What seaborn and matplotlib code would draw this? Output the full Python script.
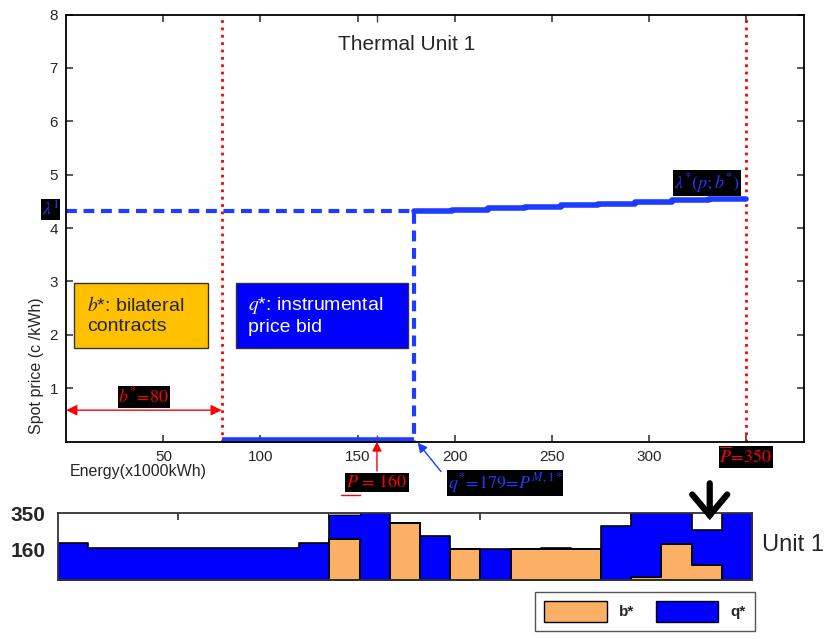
import matplotlib
matplotlib.use("Agg")
import matplotlib.pyplot as plt
import seaborn as sns
from matplotlib.patches import Patch, Rectangle

# main panel: price bid curve of thermal unit 1
bid_energy = [179, 198.6, 217, 236, 255, 274, 293, 312, 331, 350]
bid_price = [4.32, 4.34, 4.37, 4.40, 4.43, 4.46, 4.49, 4.52, 4.545, 4.545]
lambda_1 = 4.32
b_star = 80
p_min = 160
q_star = 179
p_max = 350

x_ticks = [50, 100, 150, 200, 250, 300, 350]
x_tick_labels = ['50', '100', '150', '200', '250', '300', '']
y_ticks = [1, 2, 3, 4, 5, 6, 7, 8]

# bottom panel: hourly schedule of unit 1 (stairs, 24 points -> 23 steps)
hours = list(range(1, 25))
b_hourly = [0, 0, 0, 0, 0, 0, 0, 0, 0, 215, 0, 297, 0, 162, 0, 162, 162, 162, 0, 17, 187, 79, 0]
q_hourly = [195, 166, 166, 166, 166, 166, 166, 166, 195, 125, 350, 0, 230, 0, 162, 0, 8, 0, 284, 333, 163, 183, 350]
r_hourly = [0, 0, 0, 0, 0, 0, 0, 0, 0, 10, 0, 0, 0, 0, 0, 0, 0, 0, 0, 0, 0, 0, 0]
unit_ticks = [160, 350]

BLUE = '#1E3CFF'
RED = '#FF0000'
ORANGE = '#FBB066'

sns.set_theme(style='ticks')
plt.rcParams['font.family'] = ['Liberation Sans', 'DejaVu Sans']
plt.rcParams['mathtext.fontset'] = 'stix'

fig = plt.figure(figsize=(8.28, 6.39), dpi=100)
ax = fig.add_axes([0.0801, 0.3088, 0.891, 0.6685])
ax2 = fig.add_axes([0.0697, 0.0923, 0.8385, 0.1044])

# ---- main panel ----
ax.axvline(b_star, color=RED, ls=':', lw=2, zorder=1)
ax.axvline(p_max, color=RED, ls=':', lw=2, zorder=1)
ax.plot([0, q_star, q_star], [lambda_1, lambda_1, 0], ls='--', dashes=(2.6, 1.6),
        color=BLUE, lw=3)
ax.plot([b_star, q_star], [0.03, 0.03], color=BLUE, lw=4, clip_on=False,
        solid_capstyle='butt')
sns.lineplot(x=bid_energy, y=bid_price, drawstyle='steps-post', color=BLUE,
             lw=4, ax=ax)

ax.set_xlim(0, 380)
ax.set_ylim(0, 8)
ax.set_xticks(x_ticks)
ax.set_xticklabels(x_tick_labels)
ax.set_xticks([p_min], minor=True)
ax.set_yticks(y_ticks)
ax.tick_params(which='both', direction='in', top=True, right=True, length=5,
               labelsize=11, color='#444', pad=6)
for s in ax.spines.values():
    s.set_linewidth(1.3)
    s.set_color('black')

ax.text(175.4, 7.43, 'Thermal Unit 1', fontsize=15, ha='center', va='center')
ax.text(-0.04, 0.177, 'Spot price (c /kWh)', transform=ax.transAxes, rotation=90,
        ha='center', va='center', fontsize=11.5)
ax.text(0.005, -0.069, 'Energy(x1000kWh)', transform=ax.transAxes,
        ha='left', va='center', fontsize=11.5)

# explanation boxes
ax.add_patch(Rectangle((4, 1.75), 69, 1.22, facecolor='#FFC000', edgecolor='#333', lw=1))
ax.add_patch(Rectangle((87.5, 1.75), 88.5, 1.22, facecolor='#0000FF', edgecolor='#333', lw=1))
ax.text(10.7, 2.36, '$b$*: bilateral\ncontracts', fontsize=14, ha='left', va='center',
        linespacing=1.25)
ax.text(93.7, 2.36, '$q$*: instrumental\nprice bid', fontsize=14, ha='left', va='center',
        color='white', linespacing=1.25)

blk = dict(facecolor='black', edgecolor='none', pad=0.6)
ax.annotate('', xy=(0, 0.59), xytext=(b_star, 0.59),
            arrowprops=dict(arrowstyle='<|-|>', color=RED, lw=1, mutation_scale=16,
                            shrinkA=0, shrinkB=0))
ax.text(b_star / 2, 0.84, r'$b^{*}\!=\!80$', color=RED, fontsize=13,
        ha='center', va='center', bbox=blk)
ax.text(-8, lambda_1 + 0.02, r'$\lambda^{1}$', color=BLUE, fontsize=13,
        ha='center', va='center', bbox=blk, clip_on=False)
ax.text(330, 4.84, r'$\lambda^{*}(p;b^{*})$', color=BLUE, fontsize=13,
        ha='center', va='center', bbox=blk)
ax.text(p_max, -0.29, r'$\overline{P}\!=\!350$', color=RED, fontsize=13,
        ha='center', va='center', bbox=blk, clip_on=False)
ax.annotate('', xy=(p_min, 0), xytext=(p_min, -0.55), annotation_clip=False,
            arrowprops=dict(arrowstyle='-|>', color=RED, lw=1, mutation_scale=14,
                            shrinkA=0, shrinkB=0))
ax.text(p_min, -0.76, r'$P\,=\,160$', color=RED, fontsize=13,
        ha='center', va='center', bbox=blk, clip_on=False)
# underline of the P (lower limit)
ax.plot([p_min - 18.5, p_min - 8.5], [-0.99, -0.99], color=RED, lw=1, clip_on=False)
ax.annotate('', xy=(q_star + 2, -0.02), xytext=(193, -0.56), annotation_clip=False,
            arrowprops=dict(arrowstyle='-|>', color=BLUE, lw=1, mutation_scale=14,
                            shrinkA=0, shrinkB=0))
ax.text(226, -0.77, r'$q^{*}\!=\!179\!=\!P^{M,1*}$', color=BLUE, fontsize=13,
        ha='center', va='center', bbox=blk, clip_on=False)

# ---- bottom panel ----
b_s = b_hourly + [b_hourly[-1]]
top_q = [b + q for b, q in zip(b_hourly, q_hourly)]
top_r = [t + r for t, r in zip(top_q, r_hourly)]
top_q_s = top_q + [top_q[-1]]
top_r_s = top_r + [top_r[-1]]
ax2.fill_between(hours, 0, b_s, step='post', facecolor=ORANGE, edgecolor='black', lw=1.2)
ax2.fill_between(hours, b_s, top_q_s, step='post', facecolor='#0000FF',
                 edgecolor='black', lw=1.2)
ax2.fill_between(hours, top_q_s, top_r_s, step='post', facecolor='#A0A0A0',
                 edgecolor='none')
ax2.set_xlim(1, 24)
ax2.set_ylim(0, 350)
ax2.set_axisbelow(True)
ax2.set_xticks([5, 10, 15, 20])
ax2.set_xticklabels([])
ax2.set_yticks(unit_ticks)
ax2.set_yticklabels([str(t) for t in unit_ticks], fontsize=15, fontweight='bold')
ax2.tick_params(axis='x', direction='in', top=True, length=5, color='#333')
ax2.tick_params(axis='y', length=0, pad=9)
for s in ax2.spines.values():
    s.set_linewidth(1.3)
    s.set_color('#333')
ax2.text(1.014, 0.525, 'Unit 1', transform=ax2.transAxes, fontsize=17, va='center')
ax2.annotate('', xy=(22.6, 314), xytext=(22.6, 1.45),
             textcoords=('data', 'axes fraction'), annotation_clip=False,
             arrowprops=dict(arrowstyle='->,head_width=0.42,head_length=0.5',
                             color='black', lw=4.5, mutation_scale=30,
                             shrinkA=0, shrinkB=0, joinstyle='miter'))

fig.legend(handles=[Patch(facecolor=ORANGE, edgecolor='black', label='b*'),
                    Patch(facecolor='#0000FF', edgecolor='black', label='q*')],
           ncol=2, loc='upper left', bbox_to_anchor=(0.646, 0.0736),
           borderaxespad=0, frameon=True, fancybox=False, edgecolor='#555',
           framealpha=1, handlelength=4.1, handleheight=1.7, columnspacing=1.4,
           borderpad=0.6, prop={'weight': 'bold', 'size': 11})

fig.savefig('out.png', dpi=100)
